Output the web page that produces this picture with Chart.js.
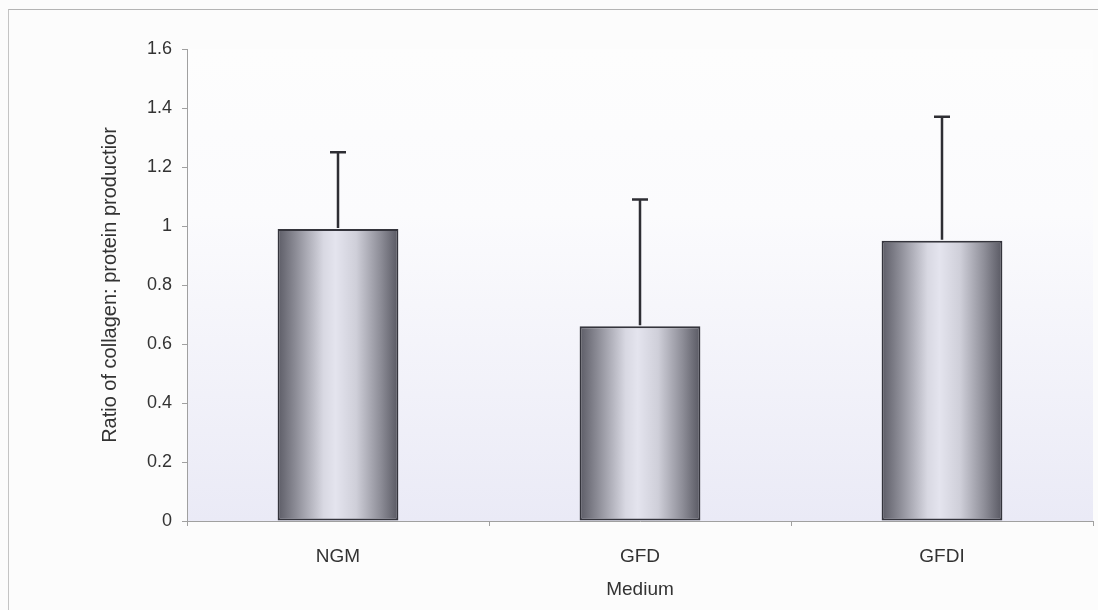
<!DOCTYPE html>
<html><head><meta charset="utf-8">
<script src="https://cdn.jsdelivr.net/npm/chart.js@4"></script>
<style>
html,body{margin:0;padding:0;background:#fcfcfc;}
#wrap{position:relative;width:1098px;height:610px;overflow:hidden;}
#frame{position:absolute;left:8px;top:9px;width:1200px;height:700px;border-top:1px solid #b4b4b4;border-left:1px solid #c4c4c4;}
canvas{position:absolute;left:0;top:0;}
</style></head><body>
<div id="wrap"><div id="frame"></div><canvas id="c" width="1098" height="610"></canvas></div>
<script>
const categories = ['NGM', 'GFD', 'GFDI'];
const ratioValues = [0.99, 0.66, 0.95];
const errorValues = [0.26, 0.43, 0.42];
const yTickLabels = ['0', '0.2', '0.4', '0.6', '0.8', '1', '1.2', '1.4', '1.6'];
const yTitle = 'Ratio of collagen: protein productior';
const xTitle = 'Medium';

const FONT = "'Liberation Sans', Arial, sans-serif";

const bgPlugin = {
  id: 'plotBg',
  beforeDraw(chart) {
    const a = chart.chartArea; if (!a) return;
    const c = chart.ctx;
    const g = c.createLinearGradient(0, a.top, 0, a.bottom);
    g.addColorStop(0, '#fdfdfd');
    g.addColorStop(0.35, '#fbfbfd');
    g.addColorStop(1, '#eaeaf6');
    c.save(); c.fillStyle = g; c.fillRect(a.left, a.top, a.right - a.left, a.bottom - a.top); c.restore();
  }
};

const errPlugin = {
  id: 'errBars',
  afterDatasetsDraw(chart) {
    const meta = chart.getDatasetMeta(0);
    const ys = chart.scales.y;
    const c = chart.ctx;
    c.save();
    c.strokeStyle = '#2e2e34';
    c.lineWidth = 2.5;
    meta.data.forEach((bar, i) => {
      const v = ratioValues[i], e = errorValues[i];
      const y0 = ys.getPixelForValue(v);
      const y1 = ys.getPixelForValue(v + e);
      c.beginPath();
      c.moveTo(bar.x, y0 - 1); c.lineTo(bar.x, y1);
      c.moveTo(bar.x - 8, y1); c.lineTo(bar.x + 8, y1);
      c.stroke();
    });
    c.restore();
  }
};

new Chart(document.getElementById('c'), {
  type: 'bar',
  data: {
    labels: categories,
    datasets: [{
      data: ratioValues,
      barPercentage: 0.4,
      categoryPercentage: 1.0,
      borderWidth: 2,
      borderColor: '#34343c',
      borderSkipped: false,
      backgroundColor: (ctx) => {
        const chart = ctx.chart; const xs = chart.scales.x;
        if (!xs || !chart.chartArea || ctx.dataIndex === undefined) return '#aaaab4';
        const cx = xs.getPixelForValue(ctx.dataIndex);
        const w = xs.width / categories.length * 0.4;
        const g = chart.ctx.createLinearGradient(cx - w / 2, 0, cx + w / 2, 0);
        g.addColorStop(0, '#5c5c66');
        g.addColorStop(0.15, '#8c8c96');
        g.addColorStop(0.38, '#d8d8e2');
        g.addColorStop(0.48, '#e4e4ee');
        g.addColorStop(0.65, '#cfcfd9');
        g.addColorStop(0.85, '#8e8e98');
        g.addColorStop(1, '#585862');
        return g;
      }
    }]
  },
  options: {
    responsive: false,
    animation: false,
    devicePixelRatio: 1,
    layout: { padding: { top: 49, right: 5, bottom: 0, left: 0 } },
    plugins: { legend: { display: false }, tooltip: { enabled: false } },
    scales: {
      x: {
        grid: { display: true, offset: true, drawOnChartArea: false, drawTicks: true, tickLength: 5, color: '#a0a0a0' },
        border: { color: '#a0a0a0', width: 1 },
        ticks: { color: '#333', font: { family: FONT, size: 19 }, padding: 19 },
        title: { display: true, text: xTitle, color: '#333', font: { family: FONT, size: 19 }, padding: { top: 0, bottom: 9 } },
        afterFit(s) { s.height = 89; }
      },
      y: {
        min: 0, max: 1.6,
        ticks: { stepSize: 0.2, color: '#333', font: { family: FONT, size: 18 }, padding: 10,
          callback: (v, i) => yTickLabels[i] },
        grid: { display: true, drawOnChartArea: false, drawTicks: true, tickLength: 5, color: '#a0a0a0' },
        border: { color: '#a0a0a0', width: 1 },
        title: { display: true, text: yTitle, color: '#333', font: { family: FONT, size: 20 }, padding: { top: 98, bottom: 0 } },
        afterFit(s) { s.width = 187; }
      }
    }
  },
  plugins: [bgPlugin, errPlugin]
});
</script>
</body></html>
